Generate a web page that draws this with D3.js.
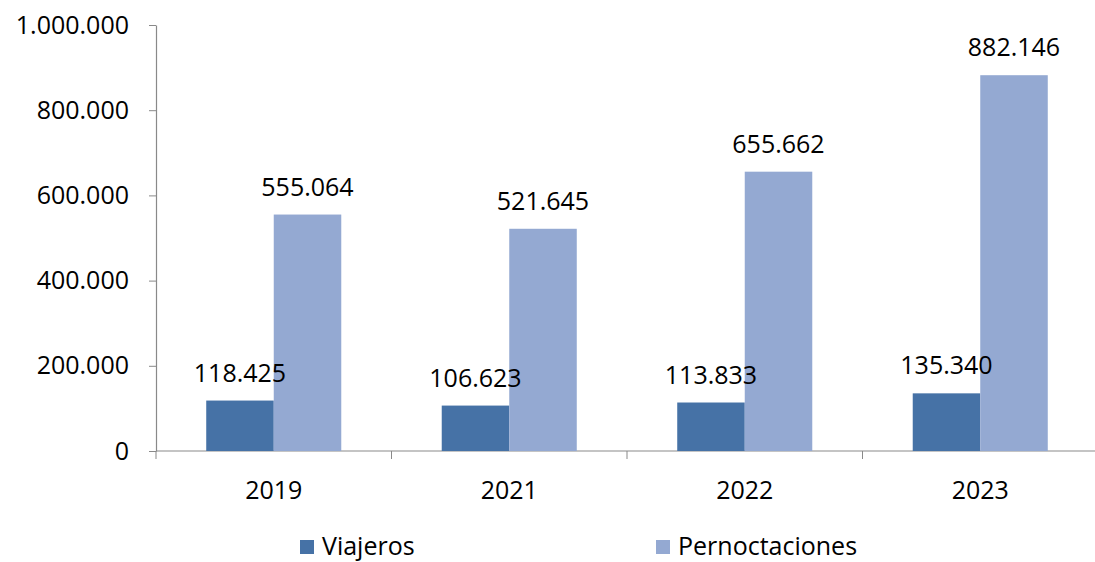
<!DOCTYPE html>
<html>
<head>
<meta charset="utf-8">
<script src="https://cdn.jsdelivr.net/npm/d3@7"></script>
<style>
  body { margin: 0; background: #fff; }
  text { font-family: "Open Sans", sans-serif; fill: #000; }
  .axis path, .axis line { stroke: #898989; }
</style>
</head>
<body>
<div id="chart"></div>
<script>
// data
var years = ["2019", "2021", "2022", "2023"],
	series = ["Viajeros", "Pernoctaciones"],
	viajeros = [118425, 106623, 113833, 135340],
	pernoctaciones = [555064, 521645, 655662, 882146],
	yTicks = [0, 200000, 400000, 600000, 800000, 1000000];

var colors = ["#4672a6", "#94a9d2"];

var width = 1095,
	height = 562,
	plotLeft = 156, plotRight = 1098, plotTop = 25, plotBottom = 451;

var es = d3.formatLocale({decimal: ",", thousands: ".", grouping: [3], currency: ["", "€"]}),
	fmt = es.format(",d");

var svg = d3.select("#chart").append("svg")
	.attr("width", width)
	.attr("height", height);

var x = d3.scaleBand().domain(years).range([plotLeft, plotRight]),
	xs = d3.scaleBand().domain(series).range([0, x.bandwidth()]).paddingOuter(0.744),
	y = d3.scaleLinear().domain([0, 1000000]).range([plotBottom, plotTop]);

var rows = years.map(function(yr, i) {
	return {year: yr, values: [viajeros[i], pernoctaciones[i]]};
});

// y axis
var yAxis = svg.append("g")
	.attr("class", "axis")
	.attr("transform", "translate(" + plotLeft + ",0)")
	.call(d3.axisLeft(y).tickValues(yTicks).tickFormat(fmt).tickSize(7).tickPadding(20).tickSizeOuter(0));
yAxis.selectAll("text").style("font-size", "25px");
yAxis.select(".domain").attr("stroke-width", 1.2);

// x axis (ticks on category boundaries)
var xg = svg.append("g").attr("class", "axis");
xg.append("line")
	.attr("x1", plotLeft).attr("x2", plotRight)
	.attr("y1", plotBottom).attr("y2", plotBottom);
xg.selectAll(".bt")
	.data(years)
	.enter().append("line")
	.attr("x1", function(d) { return x(d); })
	.attr("x2", function(d) { return x(d); })
	.attr("y1", plotBottom).attr("y2", plotBottom + 8);
xg.selectAll(".lbl")
	.data(years)
	.enter().append("text")
	.attr("x", function(d) { return x(d) + x.bandwidth() / 2; })
	.attr("y", plotBottom + 48)
	.attr("text-anchor", "middle")
	.style("font-size", "25px")
	.text(function(d) { return d; });

// bars
var groups = svg.selectAll(".grp")
	.data(rows)
	.enter().append("g")
	.attr("transform", function(d) { return "translate(" + x(d.year) + ",0)"; });

groups.selectAll("rect")
	.data(function(d) { return d.values.map(function(v, j) { return {s: series[j], v: v, j: j}; }); })
	.enter().append("rect")
	.attr("x", function(d) { return xs(d.s); })
	.attr("width", xs.bandwidth())
	.attr("y", function(d) { return y(d.v); })
	.attr("height", function(d) { return plotBottom - y(d.v); })
	.attr("fill", function(d) { return colors[d.j]; });

groups.selectAll(".val")
	.data(function(d) { return d.values.map(function(v, j) { return {s: series[j], v: v, j: j}; }); })
	.enter().append("text")
	.attr("x", function(d) { return xs(d.s) + xs.bandwidth() / 2; })
	.attr("y", function(d) { return y(d.v) - 19; })
	.attr("text-anchor", "middle")
	.style("font-size", "25px")
	.text(function(d) { return fmt(d.v); });

// legend
var legX = [300, 656];
var leg = svg.selectAll(".leg")
	.data(series)
	.enter().append("g")
	.attr("transform", function(d, i) { return "translate(" + legX[i] + ",540)"; });
leg.append("rect")
	.attr("width", 14).attr("height", 14)
	.attr("fill", function(d, i) { return colors[i]; });
leg.append("text")
	.attr("x", 22).attr("y", 15)
	.style("font-size", "25px")
	.text(function(d) { return d; });
</script>
</body>
</html>
